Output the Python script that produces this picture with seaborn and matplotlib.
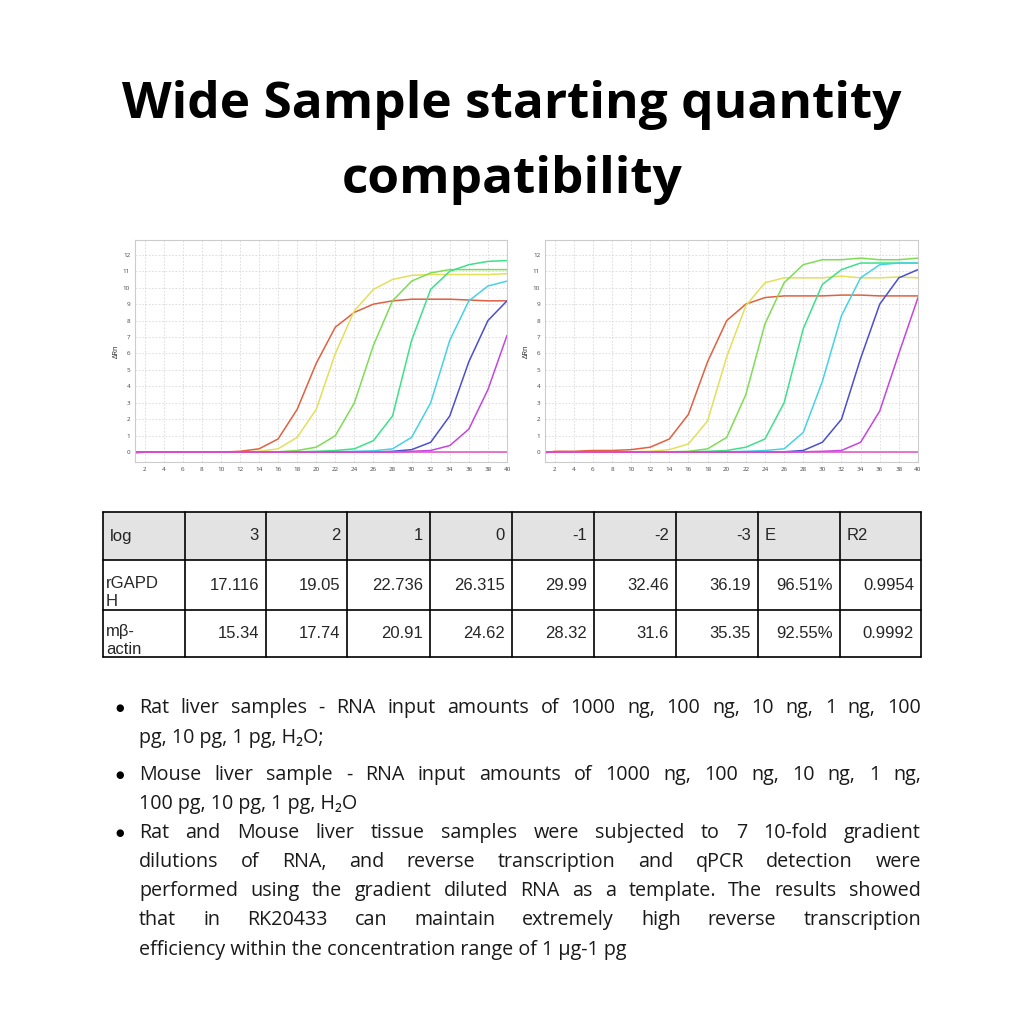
import numpy as np
import pandas as pd
import seaborn as sns
import matplotlib.pyplot as plt
from matplotlib.transforms import Bbox, TransformedBbox

# cycles sampled off the amplification plots
cycles = [1, 2, 4, 6, 8, 10, 12, 14, 16, 18, 20, 22, 24, 26, 28, 30, 32, 34, 36, 38, 40]

left_curves = {
    "red":    [-0.05, 0, 0, 0, 0, 0, 0.05, 0.2, 0.8, 2.6, 5.4, 7.6, 8.5, 9.0, 9.2, 9.3, 9.3, 9.3, 9.25, 9.2, 9.2],
    "yellow": [0, 0, 0, 0, 0, 0, 0, 0.05, 0.2, 0.9, 2.6, 6.0, 8.6, 9.9, 10.5, 10.75, 10.8, 10.8, 10.8, 10.8, 10.85],
    "green":  [0, 0, 0, 0, 0, 0, 0, 0, 0.02, 0.1, 0.3, 1.0, 3.0, 6.5, 9.2, 10.4, 10.9, 11.1, 11.1, 11.1, 11.1],
    "teal":   [0, 0, 0, 0, 0, 0, 0, 0, 0, 0.02, 0.05, 0.1, 0.2, 0.7, 2.2, 6.8, 9.9, 11.0, 11.4, 11.6, 11.65],
    "cyan":   [0, 0, 0, 0, 0, 0, 0, 0, 0, 0, 0, 0.02, 0.05, 0.08, 0.2, 0.9, 3.0, 6.8, 9.2, 10.1, 10.4],
    "blue":   [0, 0, 0, 0, 0, 0, 0, 0, 0, 0, 0, 0, 0, 0, 0.05, 0.15, 0.6, 2.2, 5.5, 8.0, 9.2],
    "purple": [0, 0, 0, 0, 0, 0, 0, 0, 0, 0, 0, 0, 0, 0, 0, 0.05, 0.1, 0.4, 1.4, 3.8, 7.1],
    "pink":   [0] * 21,
}
right_curves = {
    "red":    [-0.05, 0.05, 0.05, 0.1, 0.1, 0.15, 0.3, 0.8, 2.3, 5.5, 8.0, 9.0, 9.4, 9.5, 9.5, 9.5, 9.55, 9.55, 9.5, 9.5, 9.5],
    "yellow": [0, 0, 0, 0, 0, 0.02, 0.05, 0.15, 0.5, 1.9, 5.8, 8.9, 10.3, 10.6, 10.6, 10.6, 10.7, 10.6, 10.6, 10.65, 10.6],
    "green":  [0, 0, 0, 0, 0, 0, 0, 0.02, 0.05, 0.2, 0.9, 3.5, 7.8, 10.3, 11.4, 11.7, 11.7, 11.8, 11.7, 11.7, 11.8],
    "teal":   [0, 0, 0, 0, 0, 0, 0, 0, 0.02, 0.05, 0.1, 0.3, 0.8, 3.0, 7.5, 10.2, 11.1, 11.5, 11.5, 11.5, 11.5],
    "cyan":   [0, 0, 0, 0, 0, 0, 0, 0, 0, 0, 0.02, 0.05, 0.1, 0.2, 1.2, 4.3, 8.3, 10.6, 11.4, 11.5, 11.5],
    "blue":   [0, 0, 0, 0, 0, 0, 0, 0, 0, 0, 0, 0, 0, 0.02, 0.1, 0.6, 2.0, 5.7, 9.0, 10.6, 11.1],
    "purple": [0, 0, 0, 0, 0, 0, 0, 0, 0, 0, 0, 0, 0, 0, 0.02, 0.05, 0.1, 0.6, 2.5, 6.0, 9.4],
    "pink":   [0] * 21,
}
curve_colors = {"red": "#e0603f", "yellow": "#e2e05a", "green": "#7fdc55", "teal": "#3ee08a",
                "cyan": "#45d2e8", "blue": "#4a4fd0", "purple": "#c545e0", "pink": "#e24ec8"}

col_labels = ["log", "3", "2", "1", "0", "-1", "-2", "-3", "E", "R2"]
row_names = [("rGAPD", "H"), ("mβ-", "actin")]
row_values = [
    ["17.116", "19.05", "22.736", "26.315", "29.99", "32.46", "36.19", "96.51%", "0.9954"],
    ["15.34", "17.74", "20.91", "24.62", "28.32", "31.6", "35.35", "92.55%", "0.9992"],
]

bullets = [
    ["Rat liver samples - RNA input amounts of 1000 ng, 100 ng, 10 ng, 1 ng, 100",
     "pg, 10 pg, 1 pg, H₂O;"],
    ["Mouse liver sample - RNA input amounts of 1000 ng, 100 ng, 10 ng, 1 ng,",
     "100 pg, 10 pg, 1 pg, H₂O"],
    ["Rat and Mouse liver tissue samples were subjected to 7 10-fold gradient",
     "dilutions of RNA, and reverse transcription and qPCR detection were",
     "performed using the gradient diluted RNA as a template. The results showed",
     "that in RK20433 can maintain extremely high reverse transcription",
     "efficiency within the concentration range of 1 μg-1 pg"],
]

sns.set_style("white")
plt.rcParams["font.family"] = ["Open Sans", "DejaVu Sans"]
W = 1024
fig = plt.figure(figsize=(10.24, 10.24), dpi=100)
fig.patch.set_facecolor("white")

fig.text(0.5, 1 - 105 / W, "Wide Sample starting quantity", ha="center", va="center",
         fontsize=37, fontweight="bold", color="black")
fig.text(0.5, 1 - 180 / W, "compatibility", ha="center", va="center",
         fontsize=37, fontweight="bold", color="black")


def amp_plot(rect, curves):
    ax = fig.add_axes(rect)
    for name, ys in curves.items():
        df = pd.DataFrame({"cycle": cycles, "dRn": ys})
        sns.lineplot(data=df, x="cycle", y="dRn", ax=ax, color=curve_colors[name], lw=1.1)
    ax.set_xlim(1, 40)
    ax.set_ylim(-0.6, 12.9)
    ax.set_xticks(range(2, 41, 2))
    ax.set_yticks(range(0, 13))
    ax.tick_params(labelsize=4.5, colors="#444444", length=0)
    ax.grid(True, ls=(0, (2, 2)), color="#d8d8d8", lw=0.6)
    ax.set_xlabel("")
    ax.set_ylabel("ΔRn", fontsize=5.5, labelpad=2)
    for s in ax.spines.values():
        s.set_color("#cccccc")
        s.set_linewidth(0.8)
    return ax


amp_plot([135 / W, 1 - 462 / W, 372 / W, 222 / W], left_curves)
amp_plot([545 / W, 1 - 462 / W, 373 / W, 222 / W], right_curves)

# table and bullet text drawn in pixel coordinates
ax = fig.add_axes([0, 0, 1, 1])
ax.set_xlim(0, W)
ax.set_ylim(W, 0)
ax.axis("off")

xs = [103, 185, 266, 347, 430, 512, 594, 676, 758, 840, 921]
ys = [512, 560, 610, 657]
ax.fill_between([xs[0], xs[-1]], ys[0], ys[1], color="#e3e3e3", lw=0)
for x in xs:
    ax.plot([x, x], [ys[0], ys[-1]], color="black", lw=1.2)
for y in ys:
    ax.plot([xs[0], xs[-1]], [y, y], color="black", lw=1.2)

tfont = dict(fontsize=12, family=["Liberation Sans", "DejaVu Sans"], va="center")
for i, lab in enumerate(col_labels):
    mid = (ys[0] + ys[1]) / 2
    if lab in ("log", "E", "R2"):
        ax.text(xs[i] + 7, mid, lab, ha="left", **tfont)
    else:
        ax.text(xs[i + 1] - 7, mid, lab, ha="right", **tfont)
for r, (name, vals) in enumerate(zip(row_names, row_values)):
    top, bot = ys[r + 1], ys[r + 2]
    mid = (top + bot) / 2
    ax.text(xs[0] + 3, mid - 2, name[0], ha="left", **tfont)
    t2 = ax.text(xs[0] + 3, mid + 16, name[1], ha="left", clip_on=True, **tfont)
    t2.set_clip_box(TransformedBbox(Bbox([[xs[0], top], [xs[1], bot - 1]]), ax.transData))
    for j, v in enumerate(vals):
        ax.text(xs[j + 2] - 7, mid, v, ha="right", **tfont)

# justified bullet paragraphs
fig.canvas.draw()
renderer = fig.canvas.get_renderer()
left_px, right_px = 139, 921
bfont = dict(fontsize=14.2, va="center", color="#1a1a1a")
line_y = [[708, 738], [775, 804], [833, 862, 891, 920, 950]]
for lines, yy in zip(bullets, line_y):
    ax.text(120, yy[0], "●", fontsize=7, ha="center", va="center", color="black",
            family=["DejaVu Sans"])
    for k, (ln, y) in enumerate(zip(lines, yy)):
        words = ln.split(" ")
        if k == len(lines) - 1 or len(words) == 1:
            ax.text(left_px, y, ln, ha="left", **bfont)
            continue
        arts = [ax.text(0, y, w, ha="left", **bfont) for w in words]
        widths = [a.get_window_extent(renderer).width for a in arts]
        gap = (right_px - left_px - sum(widths)) / (len(words) - 1)
        x = left_px
        for a, w in zip(arts, widths):
            a.set_x(x)
            x += w + gap

fig.savefig("out.png", dpi=100)
